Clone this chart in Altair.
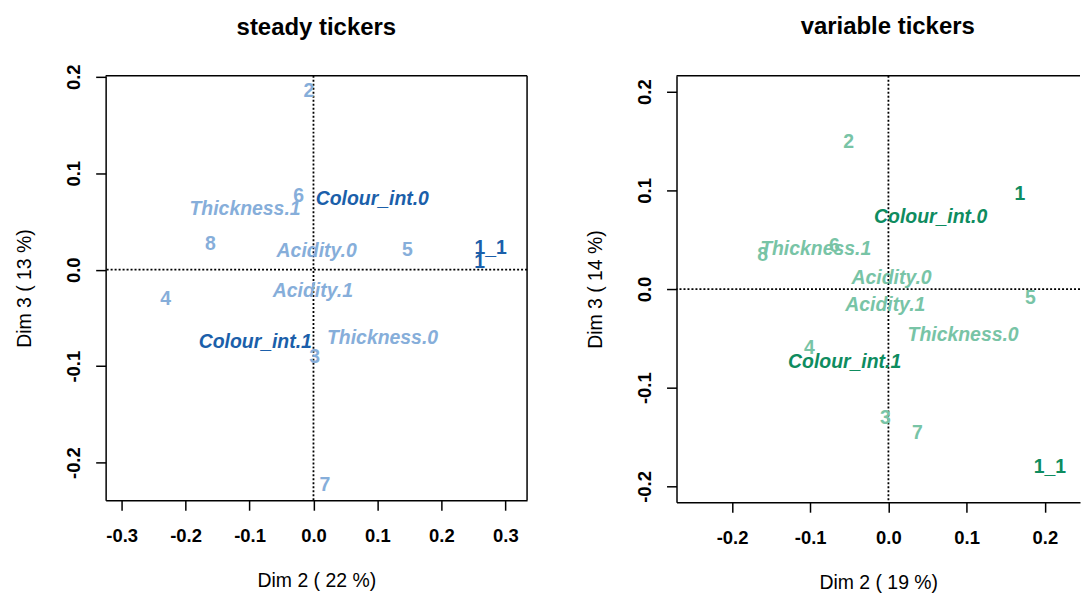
import altair as alt
import pandas as pd

FONT = "Liberation Sans"

labels = ["1", "1_1", "2", "3", "4", "5", "6", "7", "8",
          "Acidity.0", "Acidity.1", "Colour_int.0", "Colour_int.1",
          "Thickness.0", "Thickness.1"]
kinds = ["ind"] * 9 + ["var"] * 6
shades = ["dark", "dark", "light", "light", "light", "light", "light", "light", "light",
          "light", "light", "dark", "dark", "light", "light"]

steady_x = [0.260, 0.277, -0.007, 0.002, -0.231, 0.147, -0.023, 0.018, -0.161,
            0.005, -0.001, 0.092, -0.091, 0.108, -0.107]
steady_y = [0.0075, 0.022, 0.185, -0.090, -0.030, 0.020, 0.076, -0.223, 0.027,
            0.019, -0.022, 0.073, -0.075, -0.071, 0.063]

variable_x = [0.168, 0.2065, -0.051, -0.004, -0.101, 0.1815, -0.069, 0.037, -0.161,
              0.004, -0.004, 0.054, -0.056, 0.0955, -0.093]
variable_y = [0.096, -0.180, 0.1485, -0.131, -0.060, -0.0094, 0.044, -0.146, 0.034,
              0.0116, -0.016, 0.0728, -0.0737, -0.0465, 0.041]

steady_ticks_x = [-0.3, -0.2, -0.1, 0.0, 0.1, 0.2, 0.3]
steady_ticks_y = [-0.2, -0.1, 0.0, 0.1, 0.2]
variable_ticks_x = [-0.2, -0.1, 0.0, 0.1, 0.2]
variable_ticks_y = [-0.2, -0.1, 0.0, 0.1, 0.2]

blue_colors = ["#86AEDA", "#1B5FAA"]
green_colors = ["#78C4A6", "#0E8C5F"]

zero_line = [0.0]

LAB = "datum.value < 0 ? '-' + format(-datum.value, '.1f') : format(datum.value, '.1f')"


def make_axis(values, title, is_y):
    common = dict(
        values=values, labelExpr=LAB, title=title, grid=False,
        domain=True, domainColor="black", domainWidth=1.5,
        ticks=True, tickColor="black", tickWidth=1.5, tickSize=10,
        labelFont=FONT, labelFontSize=18.5, labelFontWeight="bold", labelColor="black",
        titleFont=FONT, titleFontSize=19.5, titleFontWeight="normal", titleColor="black",
        labelFlush=False, labelOverlap=False,
    )
    if is_y:
        return alt.Axis(labelAngle=270, labelAlign="center", labelBaseline="bottom",
                        labelPadding=12, titlePadding=30, **common)
    return alt.Axis(labelPadding=16, titlePadding=27, **common)


def panel(title, xs, ys, colors, xdom, ydom, xticks, yticks, w, h,
          xtitle, ytitle, right_edge, title_dx, title_offset):
    df = pd.DataFrame({"label": labels, "kind": kinds, "shade": shades, "x": xs, "y": ys})
    zdf = pd.DataFrame({"x": zero_line, "y": zero_line})
    xsc = alt.Scale(domain=xdom, nice=False, zero=False)
    ysc = alt.Scale(domain=ydom, nice=False, zero=False)
    xax = make_axis(xticks, xtitle, False)
    yax = make_axis(yticks, ytitle, True)
    colscale = alt.Scale(domain=["light", "dark"], range=colors)

    X = alt.X("x:Q", scale=xsc, axis=xax)
    Y = alt.Y("y:Q", scale=ysc, axis=yax)

    vline = alt.Chart(zdf).mark_rule(color="black", strokeWidth=1.8, strokeDash=[2, 2]).encode(x=X)
    hline = alt.Chart(zdf).mark_rule(color="black", strokeWidth=1.8, strokeDash=[2, 2]).encode(y=Y)

    base = alt.Chart(df)
    nums = base.transform_filter(alt.datum.kind == "ind").mark_text(
        font=FONT, fontSize=19.5, fontWeight="bold", align="center", baseline="middle"
    ).encode(x=X, y=Y, text="label:N",
             color=alt.Color("shade:N", scale=colscale, legend=None))
    cats = base.transform_filter(alt.datum.kind == "var").mark_text(
        font=FONT, fontSize=19.5, fontWeight="bold", fontStyle="italic",
        align="center", baseline="middle"
    ).encode(x=X, y=Y, text="label:N",
             color=alt.Color("shade:N", scale=colscale, legend=None))

    top = alt.Chart(zdf).mark_rule(color="black", strokeWidth=1.5).encode(
        x=alt.value(0), x2=alt.value(w), y=alt.value(0))
    layers = [vline, hline, nums, cats, top]
    if right_edge:
        rgt = alt.Chart(zdf).mark_rule(color="black", strokeWidth=1.5).encode(
            x=alt.value(w), y=alt.value(0), y2=alt.value(h))
        layers.append(rgt)

    return alt.layer(*layers).properties(
        width=w, height=h,
        title=alt.Title(title, font=FONT, fontSize=24, fontWeight="bold", color="black",
                        anchor="middle", frame="group", baseline="bottom",
                        offset=title_offset, dx=title_dx),
    )


left = panel("steady tickers", steady_x, steady_y, blue_colors,
             [-0.325, 0.334], [-0.239, 0.201], steady_ticks_x, steady_ticks_y,
             423, 426, "Dim 2 ( 22 %)", "Dim 3 ( 13 %)", True, 0, 0)
right = panel("variable tickers", variable_x, variable_y, green_colors,
              [-0.271, 0.245], [-0.216, 0.216], variable_ticks_x, variable_ticks_y,
              405, 428, "Dim 2 ( 19 %)", "Dim 3 ( 14 %)", False, 9.5, 12)

chart = alt.hconcat(left, right, spacing=57).resolve_scale(
    color="independent"
).properties(
    padding={"left": 7, "top": 6, "right": 0, "bottom": 0},
    background="white",
).configure_view(stroke=None)

chart.save("out.html", embed_options={"renderer": "svg", "actions": False})
